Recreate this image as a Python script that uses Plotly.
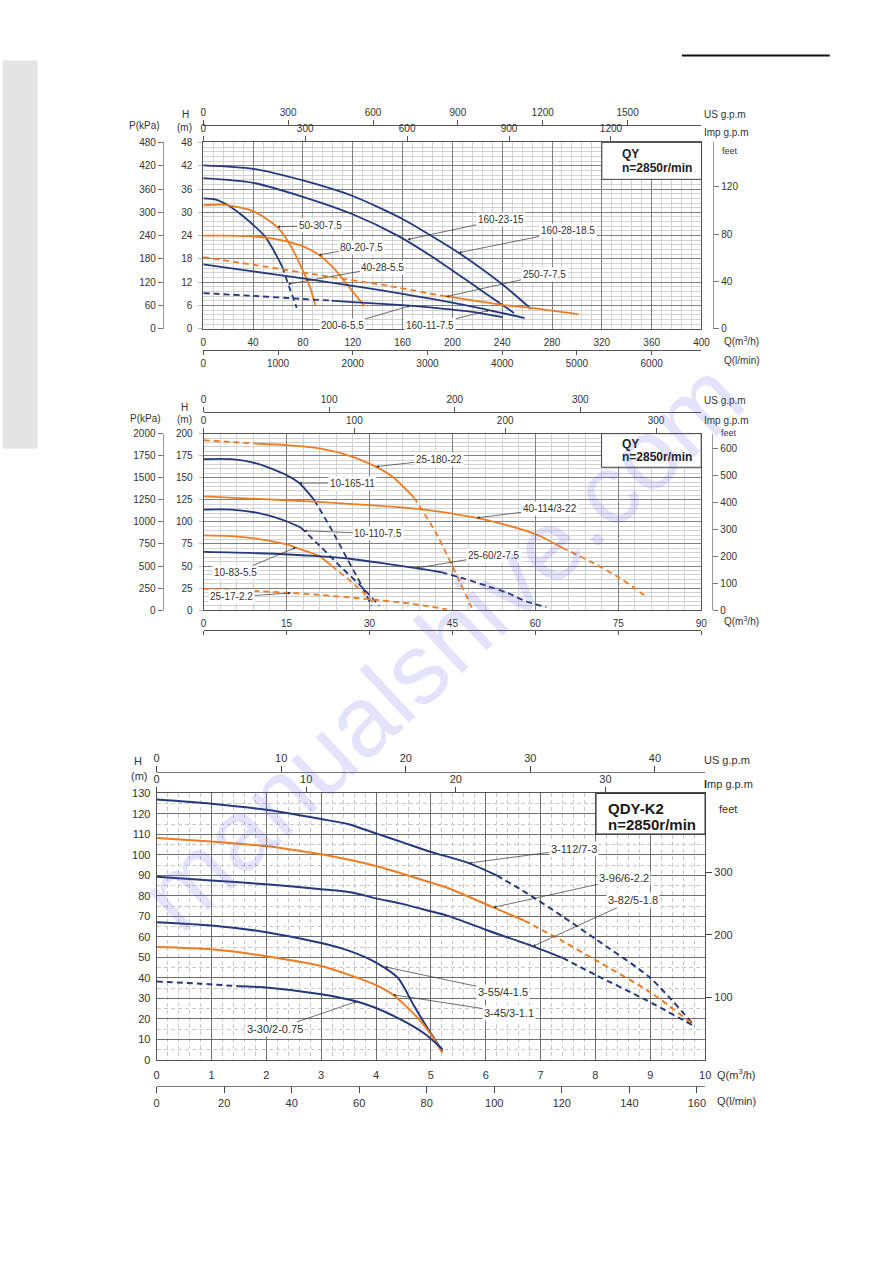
import plotly.graph_objects as go

W, HT = 893, 1263
def fx(x): return x / W
def fy(y): return 1 - y / HT

BLUE = "#25397e"
ORANGE = "#ee7d22"
FONT = "Liberation Sans, Arial, sans-serif"
TXT = "#333333"

US_PER_M3H = 4.40287
IMP_PER_M3H = 3.66615
LMIN_PER_M3H = 16.6667
FT_PER_M = 3.28084
KPA_PER_M = 10.0

# ---------------- Chart 1 : QY (large) ----------------
C1_Q_TICKS = [0, 40, 80, 120, 160, 200, 240, 280, 320, 360, 400]
C1_H_TICKS = [0, 6, 12, 18, 24, 30, 36, 42, 48]
C1_P_TICKS = [0, 60, 120, 180, 240, 300, 360, 420, 480]
C1_FT_TICKS = [0, 40, 80, 120]
C1_US_TICKS = [0, 300, 600, 900, 1200, 1500]
C1_IMP_TICKS = [0, 300, 600, 900, 1200]
C1_LMIN_TICKS = [0, 1000, 2000, 3000, 4000, 5000, 6000]

Q_160_28 = [0, 40, 80, 120, 160, 188, 205, 240, 263]
H_160_28 = [42.1, 41.2, 38.2, 34.2, 28.3, 23.0, 19.6, 11.5, 5.2]
Q_160_23 = [0, 40, 80, 120, 156, 188, 220, 249.5]
H_160_23 = [38.8, 37.6, 34.0, 29.5, 24.0, 17.7, 10.6, 4.1]
Q_40_28 = [0, 10, 20, 30, 40, 49, 56, 63.4, 69, 75]
H_40_28 = [33.6, 33.3, 31.8, 29.5, 26.8, 24.0, 20.5, 16.0, 10.8, 5.4]
Q_50_30 = [0, 15, 30, 40, 50, 60, 70, 80, 86, 90]
H_50_30 = [31.8, 32.0, 31.2, 30.3, 28.5, 26.0, 21.5, 15.0, 10.5, 6.0]
Q_80_20 = [0, 20, 40, 60, 80, 93, 105, 119, 129.6]
H_80_20 = [24.0, 24.0, 23.8, 23.0, 21.3, 19.0, 15.5, 10.0, 5.8]
Q_250_7 = [0, 50, 100, 150, 190, 240, 263, 301]
H_250_7 = [18.5, 16.0, 13.5, 11.0, 8.6, 6.2, 5.4, 3.8]
Q_160_11 = [0, 40, 80, 120, 160, 188, 220, 258]
H_160_11 = [16.6, 14.8, 13.0, 11.1, 9.0, 7.5, 5.5, 2.8]
Q_200_6 = [0, 40, 80, 103, 120, 160, 188, 220, 240.4]
H_200_6 = [9.2, 8.5, 7.7, 7.3, 6.9, 6.1, 5.35, 4.2, 3.0]

# ---------------- Chart 2 : QY (small flow) ----------------
C2_Q_TICKS = [0, 15, 30, 45, 60, 75, 90]
C2_H_TICKS = [0, 25, 50, 75, 100, 125, 150, 175, 200]
C2_P_TICKS = [0, 250, 500, 750, 1000, 1250, 1500, 1750, 2000]
C2_FT_TICKS = [0, 100, 200, 300, 400, 500, 600]
C2_US_TICKS = [0, 100, 200, 300]
C2_IMP_TICKS = [0, 100, 200, 300]

Q_25_180 = [0, 5, 10, 15, 20, 25, 30, 34, 38, 42, 45, 48.5]
H_25_180 = [192.5, 190.5, 188.5, 187, 184, 177.5, 166, 152, 128, 88, 50, 3]
Q_10_165 = [0, 5, 10, 15, 17.3, 20, 23, 26, 28.5, 30.4]
H_10_165 = [171, 171, 165.5, 153, 144, 125, 93, 58, 29, 5]
Q_10_110 = [0, 5, 10, 14.9, 17.6, 21, 25, 28.5, 31.8]
H_10_110 = [114, 114, 110, 101, 93.5, 73, 48, 27, 5]
Q_10_83 = [0, 5, 10, 15, 18, 20.8, 23.1, 26, 29.1, 31.2]
H_10_83 = [84.8, 84, 80.5, 74.5, 68, 61.6, 50.5, 36, 18.7, 5]
Q_25_60 = [0, 10, 20, 26.8, 32, 38.1, 43, 47, 51, 55, 58.3, 62]
H_25_60 = [66, 64.5, 61.5, 58, 53.5, 48, 43, 36, 28, 19.5, 10, 3.5]
Q_40_114 = [0, 10, 20, 30, 40, 49.4, 55, 60.1, 64.8, 70, 74.6, 78, 80.3]
H_40_114 = [129, 126, 123, 119, 114, 104.6, 96, 86, 71, 55, 39, 25, 13.8]
Q_25_17 = [0, 10, 15.8, 20, 30, 38, 44]
H_25_17 = [24.3, 21.5, 19.5, 17.8, 12.5, 7, 1]

# ---------------- Chart 3 : QDY-K2 ----------------
C3_Q_TICKS = [0, 1, 2, 3, 4, 5, 6, 7, 8, 9, 10]
C3_H_TICKS = [0, 10, 20, 30, 40, 50, 60, 70, 80, 90, 100, 110, 120, 130]
C3_FT_TICKS = [100, 200, 300]
C3_US_TICKS = [0, 10, 20, 30, 40]
C3_IMP_TICKS = [0, 10, 20, 30]
C3_LMIN_TICKS = [0, 20, 40, 60, 80, 100, 120, 140, 160]

Q_3_112 = [0, 1, 2, 3, 3.5, 4, 4.5, 5, 5.69, 6.2, 6.77, 7.4, 8, 9, 9.81]
H_3_112 = [127, 125, 122, 117.5, 115, 110.5, 106, 101.5, 96, 90, 81, 70, 59, 40, 16.5]
Q_3_96 = [0, 1, 2, 2.6, 3, 4, 5, 5.3, 6.14, 6.7, 7.4, 8, 9, 9.75]
H_3_96 = [108.3, 106.5, 104.3, 102, 100.3, 94.6, 86.5, 84, 74.4, 68, 58, 48.7, 33, 18]
Q_3_82 = [0, 1, 2, 3, 3.56, 4, 4.5, 5, 5.3, 6, 6.86, 7.4, 8, 8.9, 9.8]
H_3_82 = [89.3, 87.5, 85.7, 83.3, 81.7, 78.8, 76, 72.5, 70.4, 63.5, 55.4, 49.8, 41.5, 29.5, 16.5]
Q_3_55 = [0, 1, 2, 3, 3.5, 4, 4.4, 4.7, 4.95, 5.21]
H_3_55 = [67.2, 65.6, 62.3, 57, 53.3, 47.5, 40, 26, 15, 4.3]
Q_3_45 = [0, 1, 2, 3, 3.56, 4, 4.31, 4.76, 5.0, 5.21]
H_3_45 = [55.1, 54, 50.6, 45.8, 41, 36.5, 31.8, 20.5, 12.5, 3.5]
Q_3_30 = [0, 0.8, 1.5, 2, 3, 3.65, 4, 4.5, 4.9, 5.21]
H_3_30 = [38.2, 37.2, 35.9, 35.3, 32, 28.5, 25.3, 19, 12.5, 5.2]

fig = go.Figure()


def add_curve(q, h, color, xa, ya, solid_from=None, solid_to=None, width=1.8):
    qs = q[0] if solid_from is None else solid_from
    qe = q[-1] if solid_to is None else solid_to
    pts = list(zip(q, h))
    parts = [([p for p in pts if p[0] <= qs], "6px,4px"),
             ([p for p in pts if qs <= p[0] <= qe], "solid"),
             ([p for p in pts if p[0] >= qe], "6px,4px")]
    for seg, dash in parts:
        if len(seg) >= 2:
            fig.add_trace(go.Scatter(
                x=[p[0] for p in seg], y=[p[1] for p in seg], mode="lines",
                line=dict(color=color, width=width, dash=dash, shape="spline", smoothing=0.7),
                xaxis=xa, yaxis=ya, hoverinfo="skip", showlegend=False))


def dummy(xa, ya, x, y):
    fig.add_trace(go.Scatter(x=[x], y=[y], mode="markers", marker=dict(opacity=0),
                             xaxis=xa, yaxis=ya, hoverinfo="skip", showlegend=False))


def tf(size=10):
    return dict(family=FONT, size=size, color=TXT)


# ---- chart 1 curves
add_curve(Q_160_28, H_160_28, BLUE, "x", "y")
add_curve(Q_160_23, H_160_23, BLUE, "x", "y")
add_curve(Q_40_28, H_40_28, BLUE, "x", "y", solid_to=63.4)
add_curve(Q_50_30, H_50_30, ORANGE, "x", "y")
add_curve(Q_80_20, H_80_20, ORANGE, "x", "y")
add_curve(Q_250_7, H_250_7, ORANGE, "x", "y", solid_from=190)
add_curve(Q_160_11, H_160_11, BLUE, "x", "y")
add_curve(Q_200_6, H_200_6, BLUE, "x", "y", solid_from=103)

# ---- chart 2 curves
add_curve(Q_25_180, H_25_180, ORANGE, "x5", "y4", solid_from=10, solid_to=38)
add_curve(Q_10_165, H_10_165, BLUE, "x5", "y4", solid_to=20)
add_curve(Q_10_110, H_10_110, BLUE, "x5", "y4", solid_to=17.6)
add_curve(Q_10_83, H_10_83, ORANGE, "x5", "y4", solid_to=23.1)
add_curve(Q_25_60, H_25_60, BLUE, "x5", "y4", solid_to=43)
add_curve(Q_40_114, H_40_114, ORANGE, "x5", "y4", solid_to=64.8)
add_curve(Q_25_17, H_25_17, ORANGE, "x5", "y4", solid_from=0, solid_to=0)

# ---- chart 3 curves
add_curve(Q_3_112, H_3_112, BLUE, "x9", "y7", solid_to=6.2, width=2)
add_curve(Q_3_96, H_3_96, ORANGE, "x9", "y7", solid_to=6.7, width=2)
add_curve(Q_3_82, H_3_82, BLUE, "x9", "y7", solid_to=7.4, width=2)
add_curve(Q_3_55, H_3_55, BLUE, "x9", "y7", width=2)
add_curve(Q_3_45, H_3_45, ORANGE, "x9", "y7", width=2)
add_curve(Q_3_30, H_3_30, BLUE, "x9", "y7", solid_from=1.5, width=2)

# dummies for secondary axes
dummy("x2", "y", 0, 0)
dummy("x3", "y", 0, 0)
dummy("x4", "y", 0, 0)
dummy("x", "y2", 0, 0)
dummy("x", "y3", 0, 0)
dummy("x6", "y4", 0, 0)
dummy("x7", "y4", 0, 0)
dummy("x8", "y4", 0, 0)
dummy("x5", "y5", 0, 0)
dummy("x5", "y6", 0, 0)
dummy("x10", "y7", 0, 0)
dummy("x11", "y7", 0, 0)
dummy("x12", "y7", 0, 0)
dummy("x9", "y8", 0, 100)

GRID_MAJ = "#808080"
GRID_MIN = "#d2d2d2"
LINE = "#555555"

lay = dict(
    width=W, height=HT, margin=dict(l=0, r=0, t=0, b=0),
    paper_bgcolor="white", plot_bgcolor="rgba(0,0,0,0)", showlegend=False,
    font=dict(family=FONT, size=10, color=TXT),
)

# ===== chart 1 axes
X1 = [fx(203), fx(708)]
Y1 = [fy(326), fy(137.7)]
lay["xaxis"] = dict(domain=X1, range=[0, 400], anchor="y", tickvals=C1_Q_TICKS, tickfont=tf(),
                    showgrid=True, gridcolor=GRID_MAJ, gridwidth=1,
                    minor=dict(dtick=8, tick0=0, showgrid=True, gridcolor=GRID_MIN, gridwidth=0.6),
                    showline=True, linecolor=LINE, linewidth=1, mirror=True, zeroline=False,
                    ticks="", ticklabelstandoff=4)
lay["yaxis"] = dict(domain=Y1, range=[0, 48], anchor="x", tickvals=C1_H_TICKS, tickfont=tf(),
                    showgrid=True, gridcolor=GRID_MAJ, gridwidth=1,
                    minor=dict(dtick=1.2, tick0=0, showgrid=True, gridcolor=GRID_MIN, gridwidth=0.6),
                    showline=True, linecolor=LINE, linewidth=1, mirror=True, zeroline=False,
                    ticks="outside", ticklen=4, tickcolor="#bbbbbb", ticklabelstandoff=4)
lay["xaxis2"] = dict(overlaying="x", anchor="free", position=fy(120), side="top", range=[0, 400 * US_PER_M3H],
                     tickvals=C1_US_TICKS, tickfont=tf(), showgrid=False, zeroline=False,
                     showline=True, linecolor=LINE, ticks="outside", ticklen=5, tickcolor=LINE)
lay["xaxis3"] = dict(overlaying="x", anchor="y", side="top", range=[0, 400 * IMP_PER_M3H],
                     tickvals=C1_IMP_TICKS, tickfont=tf(), showgrid=False, zeroline=False,
                     showline=False, ticks="outside", ticklen=5, tickcolor=LINE)
lay["xaxis4"] = dict(overlaying="x", anchor="free", position=fy(347), side="bottom", range=[0, 400 * LMIN_PER_M3H],
                     tickvals=C1_LMIN_TICKS, tickfont=tf(), showgrid=False, zeroline=False,
                     showline=True, linecolor=LINE, ticks="outside", ticklen=4, tickcolor=LINE)
lay["yaxis2"] = dict(overlaying="y", anchor="free", position=fx(162), side="left", range=[0, 48 * KPA_PER_M],
                     tickvals=C1_P_TICKS, tickfont=tf(), showgrid=False, zeroline=False,
                     showline=True, linecolor="#999999", ticks="outside", ticklen=5, tickcolor="#777777")
lay["yaxis3"] = dict(overlaying="y", anchor="free", position=fx(720), side="right", range=[0, 48 * FT_PER_M],
                     tickvals=C1_FT_TICKS, tickfont=tf(), showgrid=False, zeroline=False,
                     showline=True, linecolor="#999999", ticks="outside", ticklen=5, tickcolor="#777777")

# ===== chart 2 axes
X2 = [fx(203.3), fx(707.7)]
Y2 = [fy(610), fy(431.7)]
lay["xaxis5"] = dict(domain=X2, range=[0, 90], anchor="y4", tickvals=C2_Q_TICKS, tickfont=tf(),
                     showgrid=True, gridcolor=GRID_MAJ, gridwidth=1,
                     minor=dict(dtick=3, tick0=0, showgrid=True, gridcolor=GRID_MIN, gridwidth=0.6),
                     showline=True, linecolor=LINE, linewidth=1, mirror=True, zeroline=False,
                     ticks="", ticklabelstandoff=4)
lay["yaxis4"] = dict(domain=Y2, range=[0, 200], anchor="x5", tickvals=C2_H_TICKS, tickfont=tf(),
                     showgrid=True, gridcolor=GRID_MAJ, gridwidth=1,
                     minor=dict(dtick=5, tick0=0, showgrid=True, gridcolor=GRID_MIN, gridwidth=0.6),
                     showline=True, linecolor=LINE, linewidth=1, mirror=True, zeroline=False,
                     ticks="outside", ticklen=4, tickcolor="#bbbbbb", ticklabelstandoff=4)
lay["xaxis6"] = dict(overlaying="x5", anchor="free", position=fy(410), side="top", range=[0, 90 * US_PER_M3H],
                     tickvals=C2_US_TICKS, tickfont=tf(), showgrid=False, zeroline=False,
                     showline=True, linecolor=LINE, ticks="outside", ticklen=5, tickcolor=LINE)
lay["xaxis7"] = dict(overlaying="x5", anchor="y4", side="top", range=[0, 90 * IMP_PER_M3H],
                     tickvals=C2_IMP_TICKS, tickfont=tf(), showgrid=False, zeroline=False,
                     showline=False, ticks="outside", ticklen=5, tickcolor=LINE)
lay["xaxis8"] = dict(overlaying="x5", anchor="free", position=fy(630), side="bottom", range=[0, 90],
                     tickvals=C2_Q_TICKS, showticklabels=False, showgrid=False, zeroline=False,
                     showline=True, linecolor=LINE, ticks="outside", ticklen=4, tickcolor=LINE)
lay["yaxis5"] = dict(overlaying="y4", anchor="free", position=fx(161.7), side="left", range=[0, 200 * KPA_PER_M],
                     tickvals=C2_P_TICKS, tickfont=tf(), showgrid=False, zeroline=False,
                     showline=True, linecolor="#999999", ticks="outside", ticklen=5, tickcolor="#777777")
lay["yaxis6"] = dict(overlaying="y4", anchor="free", position=fx(719), side="right", range=[0, 200 * FT_PER_M],
                     tickvals=C2_FT_TICKS, tickfont=tf(), showgrid=False, zeroline=False,
                     showline=True, linecolor="#999999", ticks="outside", ticklen=5, tickcolor="#777777")

# ===== chart 3 axes
X3 = [fx(155.7), fx(711.7)]
Y3 = [fy(1064), fy(795)]
lay["xaxis9"] = dict(domain=X3, range=[0, 10], anchor="y7", tickvals=C3_Q_TICKS, tickfont=tf(11),
                     showgrid=True, gridcolor="#6f6f6f", gridwidth=1,
                     minor=dict(dtick=0.2, tick0=0, showgrid=True, gridcolor="#c8c8c8", gridwidth=0.8, griddash="4px,3px"),
                     showline=True, linecolor=LINE, linewidth=1, mirror=True, zeroline=False,
                     ticks="", ticklabelstandoff=5)
lay["yaxis7"] = dict(domain=Y3, range=[0, 130], anchor="x9", tickvals=C3_H_TICKS, tickfont=tf(11),
                     showgrid=True, gridcolor="#6f6f6f", gridwidth=1,
                     minor=dict(dtick=5, tick0=0, showgrid=True, gridcolor="#c8c8c8", gridwidth=0.8, griddash="4px,3px"),
                     showline=True, linecolor=LINE, linewidth=1, mirror=True, zeroline=False,
                     ticks="", ticklabelstandoff=3)
lay["xaxis10"] = dict(overlaying="x9", anchor="free", position=fy(773.3), side="top", range=[0, 10 * US_PER_M3H],
                      tickvals=C3_US_TICKS, tickfont=tf(11), showgrid=False, zeroline=False,
                      showline=True, linecolor="#777777", ticks="outside", ticklen=6, tickcolor="#444444")
lay["xaxis11"] = dict(overlaying="x9", anchor="y7", side="top", range=[0, 10 * IMP_PER_M3H],
                      tickvals=C3_IMP_TICKS, tickfont=tf(11), showgrid=False, zeroline=False,
                      showline=False, ticks="outside", ticklen=5, tickcolor="#444444")
lay["xaxis12"] = dict(overlaying="x9", anchor="free", position=fy(1090.7), side="bottom", range=[0, 162.45],
                      tickvals=C3_LMIN_TICKS, tickfont=tf(11), showgrid=False, zeroline=False,
                      showline=True, linecolor="#777777", ticks="outside", ticklen=6, tickcolor="#444444")
lay["yaxis8"] = dict(overlaying="y7", anchor="free", position=fx(711.7), side="right", range=[0, 130 * FT_PER_M],
                     tickvals=C3_FT_TICKS, tickfont=tf(11), showgrid=False, zeroline=False,
                     showline=False, ticks="outside", ticklen=6, tickcolor="#444444")

fig.update_layout(**lay)

# ---------------- shapes ----------------
shapes = [
    dict(type="rect", xref="paper", yref="paper", x0=0, x1=fx(35), y0=fy(447), y1=fy(55),
         fillcolor="#e4e4e4", line=dict(width=0), layer="below"),
    dict(type="line", xref="paper", yref="paper", x0=fx(688), x1=fx(838), y0=fy(50), y1=fy(50),
         line=dict(color="#111111", width=2)),
    dict(type="rect", xref="paper", yref="paper", x0=fx(607), x1=fx(708), y0=fy(175), y1=fy(137.7),
         fillcolor="white", line=dict(color="#444444", width=1), layer="above"),
    dict(type="rect", xref="paper", yref="paper", x0=fx(606.7), x1=fx(707.7), y0=fy(465.7), y1=fy(431.7),
         fillcolor="white", line=dict(color="#444444", width=1), layer="above"),
    dict(type="rect", xref="paper", yref="paper", x0=fx(601), x1=fx(711.7), y0=fy(836), y1=fy(795),
         fillcolor="white", line=dict(color="#333333", width=1.2), layer="above"),
]
fig.update_layout(shapes=shapes)

ann = []


def ptxt(text, x, y, size=10, xanchor="center", bold=False, color=TXT):
    if bold:
        text = "<b>" + text + "</b>"
    ann.append(dict(text=text, x=fx(x), y=fy(y), xref="paper", yref="paper", showarrow=False,
                    xanchor=xanchor, yanchor="middle", font=dict(family=FONT, size=size, color=color)))


def lab(text, q, h, ax, ay, xa, ya, size=10):
    ann.append(dict(text=text, x=q, y=h, xref=xa, yref=ya, ax=ax, ay=ay, axref="pixel", ayref="pixel",
                    showarrow=True, arrowhead=2, arrowsize=0.8, arrowwidth=0.7, arrowcolor="#333333",
                    bgcolor="white", borderpad=1, font=dict(family=FONT, size=size, color=TXT)))


# axis titles chart 1
ptxt("H", 185, 110)
ptxt("(m)", 184, 122.7)
ptxt("P(kPa)", 143, 121)
ptxt("US g.p.m", 708.3, 110, xanchor="left")
ptxt("Imp g.p.m", 708.3, 127.7, xanchor="left")
ptxt("feet", 736.7, 146, size=9)
ptxt("Q(m<sup>3</sup>/h)", 729, 338, xanchor="left")
ptxt("Q(l/min)", 729, 358, xanchor="left")
ptxt("QY", 625, 149, size=12, xanchor="left", bold=True, color="#222222")
ptxt("n=2850r/min", 625, 163.5, size=12, xanchor="left", bold=True, color="#222222")

# chart 2
ptxt("H", 184, 405.7)
ptxt("(m)", 184, 417.7)
ptxt("P(kPa)", 144.3, 416.7)
ptxt("US g.p.m", 708.3, 398.3, xanchor="left")
ptxt("Imp g.p.m", 708.3, 418.3, xanchor="left")
ptxt("feet", 736, 431, size=9)
ptxt("Q(m<sup>3</sup>/h)", 728.3, 620.7, xanchor="left")
ptxt("QY", 625, 441.7, size=12, xanchor="left", bold=True, color="#222222")
ptxt("n=2850r/min", 625, 455.5, size=12, xanchor="left", bold=True, color="#222222")

# chart 3
ptxt("H", 136.7, 762.3, size=11)
ptxt("(m)", 138.3, 777.3, size=11)
ptxt("US g.p.m", 708.3, 761, size=11, xanchor="left")
ptxt("<b>I</b>mp g.p.m", 708.3, 785, size=11, xanchor="left")
ptxt("feet", 735, 810.7, size=11)
ptxt("Q(m<sup>3</sup>/h)", 721.7, 1078.3, size=11, xanchor="left")
ptxt("Q(l/min)", 721.7, 1105, size=11, xanchor="left")
ptxt("QDY-K2", 611.7, 810, size=15, xanchor="left", bold=True, color="#1a1a1a")
ptxt("n=2850r/min", 611.7, 826.5, size=15, xanchor="left", bold=True, color="#1a1a1a")

# curve labels chart 1
lab("50-30-7.5", 59.4, 26.3, 43, -1, "x", "y")
lab("80-20-7.5", 92.7, 19.0, 43, -8, "x", "y")
lab("40-28-5.5", 68, 11.5, 95, -17, "x", "y")
lab("160-23-15", 164, 23.0, 93, -20, "x", "y")
lab("160-28-18.5", 205, 19.6, 109, -22, "x", "y")
lab("250-7-7.5", 195, 8.3, 98, -22, "x", "y")
lab("200-6-5.5", 166, 5.95, -68, 20, "x", "y")
lab("160-11-7.5", 229.6, 4.8, -59, 15, "x", "y")

# curve labels chart 2
lab("25-180-22", 31.2, 162.6, 63, -7, "x5", "y4")
lab("10-165-11", 17.3, 144, 53, 0, "x5", "y4")
lab("10-110-7.5", 18.2, 90, 74, 3, "x5", "y4")
lab("10-83-5.5", 16.7, 71, -60, 25, "x5", "y4")
lab("25-17-2.2", 15.8, 19.5, -59, 4, "x5", "y4")
lab("25-60/2-7.5", 38.4, 47.6, 78, -13, "x5", "y4")
lab("40-114/3-22", 49.4, 104.6, 73, -9, "x5", "y4")

# curve labels chart 3
lab("3-112/7-3", 5.69, 96, 105, -14, "x9", "y7", size=11)
lab("3-96/6-2.2", 6.14, 74.4, 131, -29, "x9", "y7", size=11)
lab("3-82/5-1.8", 6.86, 55.4, 100, -46, "x9", "y7", size=11)
lab("3-55/4-1.5", 4.16, 45.4, 118, 25, "x9", "y7", size=11)
lab("3-45/3-1.1", 4.31, 31.8, 116, 18, "x9", "y7", size=11)
lab("3-30/2-0.75", 3.65, 28.5, -82, 28, "x9", "y7", size=11)

# watermark
ann.append(dict(text="manualshive.com", x=fx(444), y=fy(645), xref="paper", yref="paper", showarrow=False,
                textangle=-43, font=dict(family=FONT, size=100, color="rgba(90,90,230,0.17)")))

fig.update_layout(annotations=ann)
fig.write_html("out.html")
